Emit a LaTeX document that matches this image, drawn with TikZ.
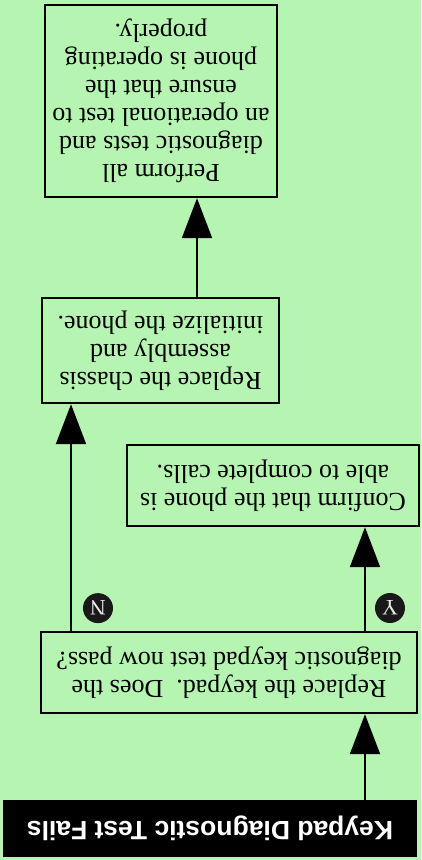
\documentclass[tikz,border=0pt]{standalone}
\usepackage{fontspec}
\setmainfont{Liberation Serif}
\newfontfamily\titlefont{Liberation Sans}
\usepackage{xcolor}
\usepackage{tikz}
\usetikzlibrary{arrows.meta}
\definecolor{pagegreen}{RGB}{182,244,178}
\tikzset{>={Triangle[length=40pt,width=30pt]}}
\tikzset{
  stepbox/.style={draw,line width=2.4pt,align=center,inner sep=0pt,
    font=\fontsize{26}{28}\selectfont},
  flow/.style={->,line width=2pt},
  ynmark/.style={circle,fill=black!90,text=white!92!black,inner sep=0pt,
    minimum size=30pt,font=\fontsize{22}{22}\selectfont}
}
\begin{document}
\begin{tikzpicture}[x=1pt,y=1pt,rotate=180,transform shape]
  \useasboundingbox (0,0) rectangle (421,860);
  \fill[pagegreen] (0,0) rectangle (421,860);

  % the flow runs downwards, the whole sheet is turned over
  \node[fill=black,text=white,minimum width=414pt,minimum height=57pt,
    font=\titlefont\fontsize{26.5}{27}\selectfont\bfseries] at (211,828.5) (title)
    {Keypad Diagnostic Test Fails};
  \node[stepbox,minimum width=376pt,minimum height=81pt] at (192,672.5) (keypad)
    {Replace the keypad.\ \ Does the\\ diagnostic keypad test now pass?};
  \node[stepbox,minimum width=292pt,minimum height=81pt] at (148,485.5) (calls)
    {Confirm that the phone is\\ able to complete calls.};
  \node[stepbox,minimum width=237pt,minimum height=105pt] at (260.5,350.5) (chassis)
    {Replace the chassis\\ assembly and\\ initialize the phone.};
  \node[stepbox,minimum width=232pt,minimum height=192pt] at (260,101) (alltests)
    {Perform all\\ diagnostic tests and\\ an operational test to\\ ensure that the\\
     phone is operating\\ properly.};

  \coordinate (ycol) at (56,0);
  \coordinate (ncol) at (350,0);
  \coordinate (pcol) at (224,0);

  \draw[flow] (title.south -| ycol) -- (keypad.north -| ycol);
  \draw[flow] (keypad.south -| ycol) -- node[ynmark,left=9pt,pos=.22] (yes) {Y}
    (calls.north -| ycol);
  \draw[flow] (keypad.south -| ncol) -- node[ynmark,left=11pt,pos=.1] (no) {N}
    (chassis.north -| ncol);
  \draw[flow] (chassis.south -| pcol) -- (alltests.north -| pcol);
\end{tikzpicture}
\end{document}
